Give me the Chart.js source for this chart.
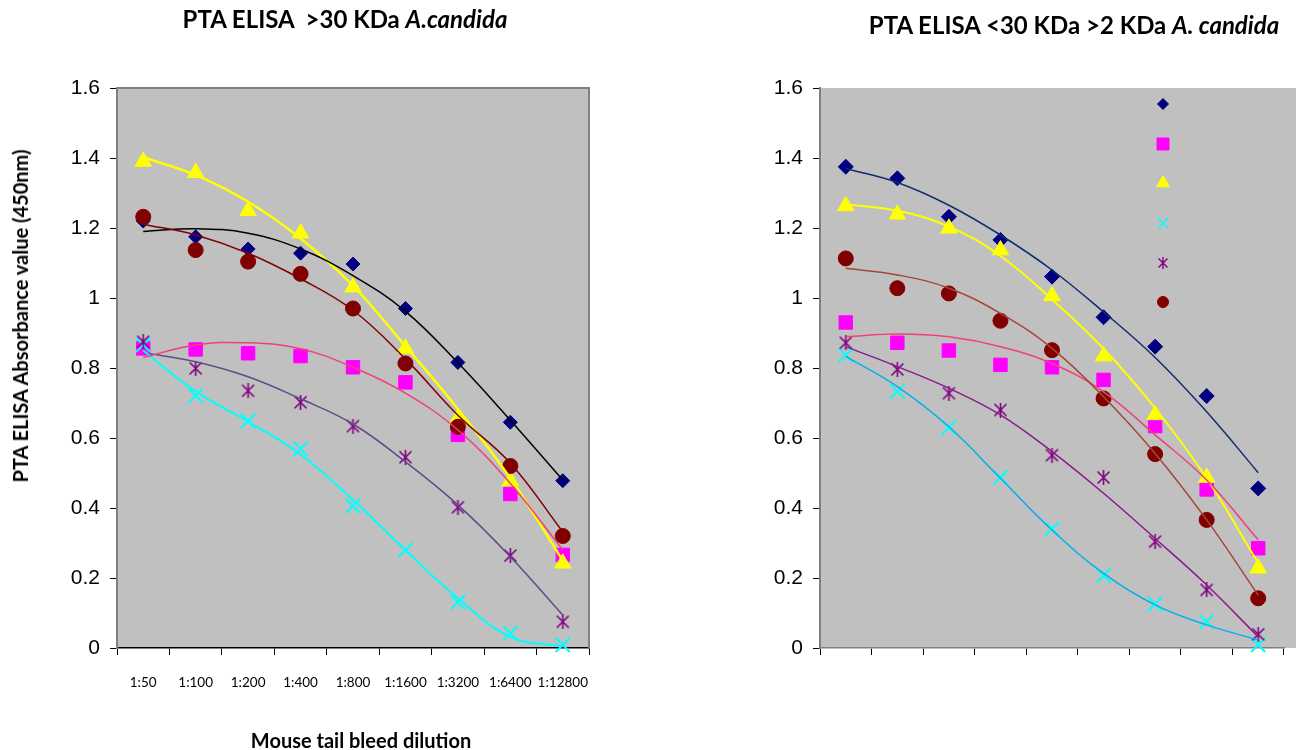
<!DOCTYPE html>
<html><head><meta charset="utf-8">
<script src="https://cdn.jsdelivr.net/npm/chart.js@4.4.0/dist/chart.umd.min.js"></script>
<style>
html,body{margin:0;padding:0;background:#fff;width:1296px;height:750px;overflow:hidden;position:relative;}
canvas{position:absolute;top:0;}
.t{position:absolute;font-family:Lato,'Open Sans',sans-serif;font-weight:bold;color:#000;white-space:pre;transform:translate(-50%,-50%);line-height:1;}
#ytitle{transform:translate(-50%,-50%) rotate(-90deg);}
</style></head><body>
<canvas id="c1" width="610" height="750" style="left:0;width:610px;height:750px"></canvas>
<canvas id="c2" width="656" height="750" style="left:640px;width:656px;height:750px"></canvas>
<div class="t" id="t1" style="left:345px;top:19px;font-size:24px;">PTA ELISA  &gt;30 KDa <i>A.candida</i></div>
<div class="t" id="t2" style="left:1074px;top:25px;font-size:24px;">PTA ELISA &lt;30 KDa &gt;2 KDa <i>A. candida</i></div>
<div class="t" id="ytitle" style="left:20px;top:316px;font-size:20px;">PTA ELISA Absorbance value (450nm)</div>
<div class="t" id="xtitle" style="left:361px;top:740px;font-size:20px;">Mouse tail bleed dilution</div>
<script>
// ---------- DATA ----------
const categories = ['1:50','1:100','1:200','1:400','1:800','1:1600','1:3200','1:6400','1:12800'];

// Left chart: >30 KDa A.candida (markers)
const L_diamond  = [1.22, 1.175, 1.14, 1.128, 1.097, 0.970, 0.816, 0.645, 0.478];
const L_square   = [0.856, 0.853, 0.842, 0.834, 0.802, 0.759, 0.609, 0.440, 0.266];
const L_triangle = [1.39, 1.358, 1.249, 1.185, 1.031, 0.856, 0.656, 0.477, 0.242];
const L_cross    = [0.866, 0.721, 0.649, 0.569, 0.406, 0.280, 0.131, 0.042, 0.009];
const L_star     = [0.875, 0.799, 0.735, 0.702, 0.634, 0.545, 0.402, 0.264, 0.075];
const L_circle   = [1.232, 1.137, 1.104, 1.069, 0.970, 0.813, 0.632, 0.520, 0.320];
// Left chart trend lines (read at each category)
const L_tDiamond  = [1.19, 1.198, 1.185, 1.14, 1.064, 0.962, 0.815, 0.651, 0.48];
const L_tSquare   = [0.83, 0.866, 0.872, 0.855, 0.802, 0.728, 0.623, 0.47, 0.28];
const L_tTriangle = [1.402, 1.351, 1.275, 1.17, 1.035, 0.862, 0.683, 0.485, 0.25];
const L_tCross    = [0.85, 0.733, 0.647, 0.553, 0.423, 0.28, 0.142, 0.032, 0.005];
const L_tStar     = [0.844, 0.818, 0.775, 0.712, 0.64, 0.532, 0.409, 0.261, 0.094];
const L_tCircle   = [1.211, 1.18, 1.128, 1.055, 0.965, 0.826, 0.665, 0.528, 0.332];

// Right chart: <30 KDa >2 KDa A. candida (markers)
const R_diamond  = [1.375, 1.342, 1.232, 1.166, 1.061, 0.945, 0.861, 0.720, 0.456];
const R_square   = [0.930, 0.872, 0.850, 0.809, 0.802, 0.766, 0.634, 0.453, 0.285];
const R_triangle = [1.263, 1.239, 1.199, 1.137, 1.006, 0.834, 0.666, 0.487, 0.228];
const R_cross    = [0.837, 0.733, 0.630, 0.487, 0.340, 0.207, 0.126, 0.075, 0.009];
const R_star     = [0.872, 0.796, 0.728, 0.680, 0.551, 0.487, 0.304, 0.166, 0.039];
const R_circle   = [1.113, 1.028, 1.013, 0.935, 0.851, 0.713, 0.554, 0.366, 0.142];
// Right chart trend lines
const R_tDiamond  = [1.370, 1.330, 1.265, 1.180, 1.080, 0.960, 0.830, 0.675, 0.501];
const R_tSquare   = [0.889, 0.897, 0.889, 0.861, 0.813, 0.732, 0.609, 0.480, 0.309];
const R_tTriangle = [1.268, 1.249, 1.204, 1.120, 0.996, 0.855, 0.685, 0.485, 0.242];
const R_tCross    = [0.833, 0.747, 0.632, 0.485, 0.337, 0.213, 0.123, 0.066, 0.023];
const R_tStar     = [0.861, 0.804, 0.742, 0.666, 0.561, 0.442, 0.313, 0.180, 0.032];
const R_tCircle   = [1.085, 1.066, 1.028, 0.956, 0.856, 0.718, 0.556, 0.366, 0.151];

const yTickStep = 0.2, yMin = 0, yMax = 1.6;

// ---------- STYLES ----------
const NAVY = '#000080', MAG = '#FF00FF', YEL = '#FFFF00', CYAN = '#00FFFF', PURP = '#800080', DRED = '#800000';

function makeAsterisk(size, color, lw) {
  const c = document.createElement('canvas');
  c.width = size; c.height = size;
  const g = c.getContext('2d');
  g.strokeStyle = color; g.lineWidth = lw;
  const m = 1.5, s = size;
  g.beginPath();
  g.moveTo(m, m); g.lineTo(s - m, s - m);
  g.moveTo(s - m, m); g.lineTo(m, s - m);
  g.moveTo(s / 2, 0); g.lineTo(s / 2, s);
  g.stroke();
  return c;
}
const starBig = makeAsterisk(15, PURP, 1.6);
const starSmall = makeAsterisk(12, PURP, 1.4);

function markers(data, style, color, radius, bw, order) {
  return {
    data, showLine: false, order,
    pointStyle: style, pointRadius: radius, pointHoverRadius: radius,
    pointBackgroundColor: color, pointBorderColor: color, pointBorderWidth: bw,
    borderColor: color, backgroundColor: color, clip: false
  };
}
function trend(data, color, width, order) {
  return {
    data, order, borderColor: color, borderWidth: width, pointRadius: 0,
    tension: 0.4, fill: false, clip: false
  };
}

const bgPlugin = {
  id: 'bg',
  beforeDraw(chart, args, opts) {
    const a = chart.chartArea, ctx = chart.ctx;
    ctx.save();
    ctx.fillStyle = '#C0C0C0';
    ctx.fillRect(a.left, a.top, (opts.toEdge ? chart.width : a.right) - a.left, a.bottom - a.top);
    ctx.restore();
  },
  beforeDatasetsDraw(chart, args, opts) {
    if (!opts.frame) return;
    const a = chart.chartArea, ctx = chart.ctx;
    ctx.save();
    ctx.strokeStyle = '#808080'; ctx.lineWidth = 2;
    ctx.beginPath();
    ctx.moveTo(a.left, a.top); ctx.lineTo(a.right, a.top); ctx.lineTo(a.right, a.bottom);
    ctx.stroke();
    ctx.restore();
  }
};

const legendItems = [
  {style: 'rectRot', color: NAVY, r: 5.5},
  {style: 'rect', color: MAG, r: 8.5},
  {style: 'triangle', color: YEL, r: 7.5},
  {style: 'crossRot', color: CYAN, r: 7.5, lw: 1.5},
  {style: starSmall, color: PURP, r: 6},
  {style: 'circle', color: DRED, r: 5.5}
];
const legendPlugin = {
  id: 'markerLegend',
  afterDatasetsDraw(chart, args, opts) {
    if (!opts.show) return;
    const ctx = chart.ctx;
    const x = opts.x;
    opts.ys.forEach((y, i) => {
      const it = legendItems[i];
      ctx.save();
      ctx.fillStyle = it.color; ctx.strokeStyle = it.color; ctx.lineWidth = it.lw || 1;
      Chart.helpers.drawPoint(ctx, {pointStyle: it.style, radius: it.r, rotation: 0, borderWidth: it.lw || 1}, x, y);
      ctx.restore();
    });
  }
};

function yTickLabel(v) { return String(Number(v.toFixed(1))); }

function buildOptions(cfg) {
  return {
    responsive: false, animation: false,
    layout: {padding: {left: 0, top: 88, right: cfg.padRight, bottom: 0}},
    plugins: {
      legend: {display: false}, tooltip: {enabled: false}, title: {display: false},
      bg: {toEdge: cfg.toEdge, frame: cfg.frame},
      markerLegend: cfg.legend
    },
    scales: {
      x: {
        type: 'category', offset: true,
        grid: {offset: true, drawOnChartArea: false, drawTicks: true, tickLength: 7, tickColor: '#000', tickWidth: 1},
        border: {display: true, color: cfg.xBorder, width: 1.5},
        ticks: {
          autoSkip: false, maxRotation: 0, minRotation: 0, padding: 20,
          color: '#000', font: {family: 'Lato', size: 13.5},
          callback: cfg.showXLabels ? function (v, i) { return categories[i]; } : function () { return ''; }
        },
        afterFit(s) { s.height = 102; }
      },
      y: {
        min: yMin, max: yMax,
        grid: {drawOnChartArea: false, drawTicks: true, tickLength: 7, tickColor: '#000', tickWidth: 1},
        border: {display: true, color: '#808080', width: 2},
        ticks: {stepSize: yTickStep, padding: 10, color: '#000', font: {family: 'Liberation Sans', size: 21}, callback: yTickLabel},
        afterFit(s) { s.width = cfg.yWidth; }
      }
    }
  };
}

// ---------- LEFT CHART ----------
new Chart(document.getElementById('c1'), {
  type: 'line',
  data: {
    labels: categories,
    datasets: [
      trend(L_tDiamond, '#000000', 1.5, 1),
      trend(L_tSquare, '#F0407A', 1.5, 2),
      trend(L_tTriangle, YEL, 2.5, 3),
      trend(L_tCross, CYAN, 2, 4),
      trend(L_tStar, '#5F4B8B', 1.5, 5),
      trend(L_tCircle, DRED, 1.5, 0),
      markers(L_circle, 'circle', DRED, 7.5, 1, 10),
      markers(L_star, starBig, PURP, 7, 1, 11),
      markers(L_cross, 'crossRot', CYAN, 10, 2, 12),
      markers(L_triangle, 'triangle', YEL, 9.5, 1, 13),
      markers(L_square, 'rect', MAG, 9.5, 1, 14),
      markers(L_diamond, 'rectRot', NAVY, 7, 1, 15)
    ]
  },
  options: buildOptions({padRight: 21, yWidth: 117, xBorder: '#000', showXLabels: true, toEdge: false, frame: true, legend: {show: false}}),
  plugins: [bgPlugin, legendPlugin]
});

// ---------- RIGHT CHART ----------
new Chart(document.getElementById('c2'), {
  type: 'line',
  data: {
    labels: categories,
    datasets: [
      trend(R_tDiamond, '#0F2D6E', 1.5, 1),
      trend(R_tSquare, '#F0407A', 1.5, 2),
      trend(R_tTriangle, YEL, 2, 3),
      trend(R_tCross, '#00B0F0', 1.5, 4),
      trend(R_tStar, '#8B1A8B', 1.5, 5),
      trend(R_tCircle, '#A5463A', 1.5, 0),
      markers(R_circle, 'circle', DRED, 7.5, 1, 10),
      markers(R_star, starBig, PURP, 7, 1, 11),
      markers(R_cross, 'crossRot', CYAN, 10, 2, 12),
      markers(R_triangle, 'triangle', YEL, 9.5, 1, 13),
      markers(R_square, 'rect', MAG, 9.5, 1, 14),
      markers(R_diamond, 'rectRot', NAVY, 7.5, 1, 15)
    ]
  },
  options: buildOptions({padRight: 3, yWidth: 180, xBorder: '#808080', showXLabels: false, toEdge: true, frame: false,
    legend: {show: true, x: 523, ys: [104, 144, 183, 223, 263, 302]}}),
  plugins: [bgPlugin, legendPlugin]
});
</script>
</body></html>
